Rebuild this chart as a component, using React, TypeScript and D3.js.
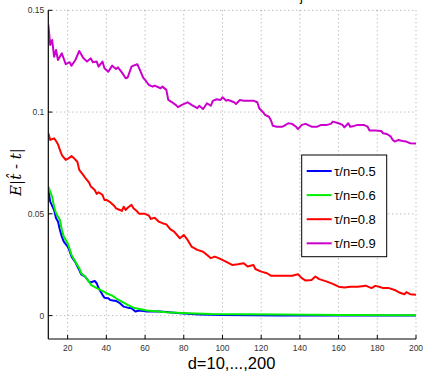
import React from "react";
import * as d3 from "d3";

const xTicks = [20, 40, 60, 80, 100, 120, 140, 160, 180, 200];
const yTicks = [0, 0.05, 0.1, 0.15];
const yTickLabels = ["0", "0.05", "0.1", "0.15"];

const d09 = [10,11,12,13,14,15,17,19,21,22,24,26,28,30,32,33,35,36,38,39,41,43,45,46,48,50,51,53,54,56,57,59,60,62,64,65,68,69,71,72,74,76,77,79,82,84,87,88,90,92,94,95,97,99,100,102,103,106,107,109,111,113,116,118,119,121,122,124,125,126,128,131,132,134,136,138,139,141,143,146,149,151,154,156,157,160,162,163,165,166,168,170,173,175,176,179,182,183,185,187,188,189,191,193,195,197,200];
const v09 = [0.1430,0.1330,0.1354,0.1272,0.1305,0.1256,0.1289,0.1235,0.1245,0.1228,0.1256,0.1300,0.1267,0.1248,0.1264,0.1245,0.1248,0.1223,0.1248,0.1215,0.1198,0.1228,0.1212,0.1220,0.1195,0.1166,0.1170,0.1223,0.1228,0.1235,0.1215,0.1169,0.1158,0.1133,0.1125,0.1130,0.1117,0.1125,0.1109,0.1060,0.1048,0.1034,0.1024,0.1035,0.1048,0.1035,0.1019,0.1031,0.1015,0.1043,0.1031,0.1055,0.1063,0.1059,0.1073,0.1056,0.1059,0.1048,0.1040,0.1059,0.1056,0.1056,0.1056,0.1048,0.1019,0.0999,0.0986,0.0977,0.0961,0.0933,0.0928,0.0928,0.0933,0.0945,0.0942,0.0928,0.0916,0.0937,0.0942,0.0928,0.0928,0.0937,0.0937,0.0942,0.0953,0.0945,0.0937,0.0925,0.0945,0.0928,0.0932,0.0937,0.0937,0.0928,0.0909,0.0909,0.0907,0.0896,0.0892,0.0879,0.0863,0.0855,0.0863,0.0858,0.0855,0.0847,0.0846];

const d08 = [10,11,13,14,15,16,17,19,20,21,22,23,25,26,28,29,31,32,34,35,36,38,39,40,42,44,45,47,48,49,50,51,53,54,56,57,60,62,63,65,67,69,71,73,75,78,80,82,84,87,90,93,94,96,98,101,105,108,111,113,116,117,120,123,125,129,132,136,139,141,143,146,148,150,154,157,160,163,166,170,174,177,179,181,183,186,189,191,194,195,197,200];
const v08 = [0.0896,0.0863,0.0871,0.0858,0.0842,0.0814,0.0789,0.0765,0.0770,0.0776,0.0784,0.0776,0.0756,0.0716,0.0691,0.0678,0.0655,0.0634,0.0617,0.0598,0.0606,0.0593,0.0568,0.0568,0.0557,0.0540,0.0527,0.0519,0.0514,0.0535,0.0519,0.0530,0.0544,0.0527,0.0511,0.0500,0.0500,0.0491,0.0475,0.0481,0.0462,0.0454,0.0448,0.0425,0.0413,0.0380,0.0396,0.0372,0.0339,0.0323,0.0314,0.0290,0.0282,0.0290,0.0282,0.0269,0.0249,0.0252,0.0257,0.0241,0.0249,0.0229,0.0216,0.0208,0.0196,0.0196,0.0196,0.0196,0.0203,0.0184,0.0172,0.0175,0.0192,0.0179,0.0167,0.0156,0.0142,0.0138,0.0142,0.0142,0.0147,0.0135,0.0146,0.0142,0.0135,0.0135,0.0126,0.0115,0.0105,0.0115,0.0105,0.0102];

const d06 = [10,12,13,14,16,17,18,20,21,22,24,26,27,29,31,32,35,38,40,43,45,48,51,54,61,71,82,94,110,130,160,200];
const v06 = [0.0634,0.0584,0.0535,0.0503,0.0470,0.0421,0.0388,0.0356,0.0328,0.0298,0.0265,0.0233,0.0208,0.0192,0.0167,0.0151,0.0135,0.0121,0.0110,0.0098,0.0085,0.0069,0.0053,0.0039,0.0025,0.0017,0.0012,0.0008,0.0007,0.0005,0.0003,0.0002];

const d05 = [10,11,13,14,15,16,17,18,20,21,22,24,26,27,29,31,32,34,35,36,38,39,41,42,45,47,49,51,53,55,57,61,68,78,88,100,130,160,200];
const v05 = [0.0617,0.0560,0.0519,0.0478,0.0462,0.0421,0.0388,0.0363,0.0339,0.0318,0.0290,0.0262,0.0224,0.0203,0.0192,0.0167,0.0164,0.0170,0.0159,0.0135,0.0102,0.0088,0.0085,0.0077,0.0072,0.0061,0.0044,0.0039,0.0036,0.0020,0.0025,0.0020,0.0020,0.0012,0.0005,0.0003,0.0001,0.0001,0.0000];

const seriesNames = ["τ/n=0.5", "τ/n=0.6", "τ/n=0.8", "τ/n=0.9"];
const seriesColors = ["#0000ff", "#00ee00", "#ff0000", "#cc00cc"];

const W = 423, H = 371;
const L = 48.3, R = 416, T = 10.3, B = 339;

export default function App() {
  const x = d3.scaleLinear().domain([10, 200]).range([L, R]);
  const y = d3.scaleLinear().domain([-0.0115, 0.15]).range([B, T]);
  const line = d3.line<[number, number]>().x(p => x(p[0])).y(p => y(p[1]));
  const series = [
    d05.map((d, i) => [d, v05[i]] as [number, number]),
    d06.map((d, i) => [d, v06[i]] as [number, number]),
    d08.map((d, i) => [d, v08[i]] as [number, number]),
    d09.map((d, i) => [d, v09[i]] as [number, number]),
  ];
  const font = "'Liberation Sans', Arial, Helvetica, sans-serif";
  const legX = 301.7, legY = 155, legW = 85, legH = 101.7;
  return (
    <svg width={W} height={H} style={{ position: "absolute", left: 0, top: 0, background: "#fff" }}>
      <rect x={0} y={0} width={W} height={H} fill="#fff" />
      <defs>
        <clipPath id="plotclip">
          <rect x={L} y={T - 2} width={R - L + 2} height={B - T + 2} />
        </clipPath>
      </defs>
      {xTicks.map(t => (
        <line key={"gx" + t} x1={x(t)} x2={x(t)} y1={T} y2={B} stroke="#8a8a8a" strokeWidth={0.8} strokeDasharray="1,3" />
      ))}
      {yTicks.map(t => (
        <line key={"gy" + t} x1={L} x2={R} y1={y(t)} y2={y(t)} stroke="#8a8a8a" strokeWidth={0.8} strokeDasharray="1,3" />
      ))}
      <g clipPath="url(#plotclip)">
        {series.map((s, i) => (
          <path key={"s" + i} d={line(s) || ""} fill="none" stroke={seriesColors[i]} strokeWidth={2} strokeLinejoin="round" />
        ))}
      </g>
      <line x1={L} x2={L} y1={T} y2={B} stroke="#000" strokeWidth={1.2} />
      <line x1={L} x2={R} y1={B} y2={B} stroke="#000" strokeWidth={1.2} />
      {yTicks.map((t, i) => (
        <g key={"yt" + t}>
          <line x1={L} x2={L + 4} y1={y(t)} y2={y(t)} stroke="#000" strokeWidth={1} />
          <text x={L - 4} y={y(t)} dy="0.35em" textAnchor="end" fontFamily={font} fontSize={8.5} fill="#333">{yTickLabels[i]}</text>
        </g>
      ))}
      {xTicks.map(t => (
        <g key={"xt" + t}>
          <line x1={x(t)} x2={x(t)} y1={B} y2={B - 4} stroke="#000" strokeWidth={1} />
          <text x={x(t)} y={B + 12} textAnchor="middle" fontFamily={font} fontSize={8.5} fill="#333">{t}</text>
        </g>
      ))}
      <text x={231.5} y={369} textAnchor="middle" fontFamily={font} fontSize={16.5} fill="#000">d=10,...,200</text>
      <text transform="translate(21,172) rotate(-90)" textAnchor="middle" fontFamily="'DejaVu Serif', 'Liberation Serif', serif" fontSize={15} fill="#000">
        <tspan fontStyle="italic">E</tspan>
        <tspan>{"|"}</tspan>
        <tspan fontStyle="italic">{"t\u0302"}</tspan>
        <tspan>{" - "}</tspan>
        <tspan fontStyle="italic">t</tspan>
        <tspan>{"|"}</tspan>
      </text>
      <text x={300} y={1} fontFamily={font} fontSize={13} fill="#000">j</text>
      <rect x={legX} y={legY} width={legW} height={legH} fill="#fff" stroke="#000" strokeWidth={1} />
      {seriesNames.map((n, i) => {
        const ly = legY + 16 + i * 24.1;
        return (
          <g key={"lg" + i}>
            <line x1={legX + 5} x2={legX + 30} y1={ly} y2={ly} stroke={seriesColors[i]} strokeWidth={2} />
            <text x={legX + 32.5} y={ly} dy="0.35em" fontFamily={font} fontSize={13} fill="#000">{n}</text>
          </g>
        );
      })}
    </svg>
  );
}
